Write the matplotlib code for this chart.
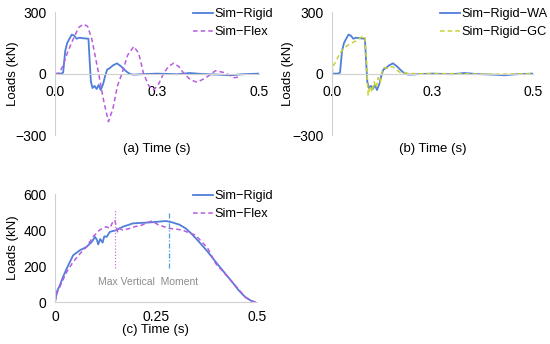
import numpy as np
import matplotlib.pyplot as plt

plt.rcParams['font.family'] = ['Liberation Sans', 'DejaVu Sans']

# ---------------------------------------------------------------------------
# Data
# ---------------------------------------------------------------------------

# (a) / (b) rigid model (same curve in both panels)
t_rigid = [0.0, 0.015, 0.02, 0.025, 0.03, 0.041, 0.047, 0.053, 0.06, 0.07, 0.082, 0.085, 0.088,
           0.092, 0.097, 0.102, 0.107, 0.112, 0.118, 0.123, 0.128, 0.133, 0.142, 0.152, 0.162,
           0.175, 0.185, 0.195, 0.21, 0.25, 0.3, 0.33, 0.36, 0.4, 0.43, 0.46, 0.5]
rigid = [0, 0, 5, 110, 150, 190, 185, 170, 175, 172, 170, 60, -40,
         -70, -60, -75, -55, -80, -50, -10, 20, 25, 40, 50, 35,
         10, -3, -5, -3, 0, -3, 3, -2, -5, -8, -3, 0]

# (a) flexible model
t_flex = [0.0, 0.008, 0.012, 0.02, 0.03, 0.045, 0.058, 0.07, 0.08, 0.09, 0.1, 0.107, 0.12,
          0.131, 0.142, 0.153, 0.164, 0.178, 0.193, 0.205, 0.217, 0.23, 0.242, 0.254, 0.266,
          0.278, 0.291, 0.303, 0.316, 0.332, 0.348, 0.37, 0.393, 0.415, 0.44, 0.455]
flex = [0, 0, 10, 40, 100, 170, 225, 241, 230, 170, 70, 0, -140,
        -234, -170, -60, 0, 90, 132, 100, 0, -60, -80, -50, 0,
        35, 51, 35, 0, -30, -42, -20, 14, 5, -20, -15]

# (b) rigid model, GC variant
t_gc = [0.0, 0.004, 0.01, 0.02, 0.03, 0.045, 0.06, 0.075, 0.082, 0.086, 0.09, 0.095, 0.1,
        0.105, 0.11, 0.115, 0.12, 0.125, 0.13, 0.14, 0.15, 0.16, 0.17, 0.2, 0.3, 0.4, 0.5]
gc = [0, 40, 60, 100, 125, 145, 160, 180, 180, 60, -105, -60, -90,
      -40, -70, -20, -45, 10, 30, 25, 35, 20, 5, 0, 0, -3, 0]

# (c) vertical load
t_c = [0.0, 0.005, 0.012, 0.02, 0.029, 0.045, 0.062, 0.078, 0.091, 0.099, 0.104, 0.107, 0.112,
       0.118, 0.122, 0.128, 0.136, 0.152, 0.168, 0.193, 0.234, 0.275, 0.291, 0.308, 0.324,
       0.34, 0.357, 0.378, 0.398, 0.418, 0.439, 0.455, 0.471, 0.485, 0.495]
c_rigid = [0, 60, 93, 140, 186, 260, 288, 306, 334, 362, 345, 320, 350,
           330, 365, 362, 390, 399, 418, 437, 442, 450, 442, 430, 409,
           375, 334, 280, 223, 168, 111, 65, 28, 8, 0]

t_c_flex = [0.0, 0.005, 0.012, 0.02, 0.029, 0.045, 0.062, 0.078, 0.094, 0.102, 0.11, 0.118,
            0.127, 0.136, 0.142, 0.148, 0.155, 0.16, 0.168, 0.185, 0.2, 0.215, 0.227, 0.24,
            0.255, 0.268, 0.283, 0.3, 0.316, 0.332, 0.348, 0.357, 0.378, 0.398, 0.42, 0.439,
            0.455, 0.471, 0.485, 0.495]
c_flex = [0, 50, 84, 125, 167, 223, 269, 306, 362, 380, 399, 410, 418, 410, 440, 455, 390, 410,
          399, 409, 420, 427, 440, 450, 430, 420, 409, 405, 399, 385, 372, 350, 300, 214,
          160, 111, 70, 28, 8, 0]

t_max_vertical = 0.148
t_max_moment = 0.283

BLUE = "#4F7FD9"
PURPLE = "#B85CE0"
GREEN = "#C8D234"
GRID = "#D0D0D0"

LEG_KW = dict(loc="upper left", frameon=False, fontsize=9.2, handlelength=1.6,
              handletextpad=0.1, labelspacing=0.45, borderpad=0, borderaxespad=0)


def style_axes(ax, xlabel, label_y, ylabel_x, xpad=8):
    for side in ("top", "right"):
        ax.spines[side].set_visible(False)
    ax.spines["left"].set_color(GRID)
    ax.spines["bottom"].set_color(GRID)
    ax.spines["bottom"].set_position(("data", 0))
    ax.tick_params(axis="x", length=0, labelsize=10, pad=xpad)
    ax.tick_params(axis="y", length=0, labelsize=10, pad=6)
    ax.set_xlim(0, 0.5)
    ax.set_xticks([0, 0.25, 0.5])
    ax.set_xlabel(xlabel, fontsize=9.5, va="center")
    ax.xaxis.set_label_coords(0.5, label_y)
    ax.set_ylabel("Loads (kN)", fontsize=9.5, va="center")
    ax.yaxis.set_label_coords(ylabel_x, 0.5)


fig = plt.figure(figsize=(5.5, 3.44), dpi=100)

# ---------------------------------------------------------------------------
# (a)
# ---------------------------------------------------------------------------
ax_a = fig.add_axes([0.1, 0.607, 0.371, 0.358])
ax_a.plot(t_rigid, rigid, color=BLUE, lw=1.3, label="Sim\u2212Rigid")
ax_a.plot(t_flex, flex, color=PURPLE, lw=1.1, ls=(0, (3, 2)), label="Sim\u2212Flex")
ax_a.set_ylim(-300, 300)
ax_a.set_yticks([-300, 0, 300])
style_axes(ax_a, "(a) Time (s)", -0.114, -0.206)
ax_a.set_xticklabels(["0.0", "0.3", "0.5"])
ax_a.legend(bbox_to_anchor=(0.351, 0.976), bbox_transform=fig.transFigure, **LEG_KW)

# ---------------------------------------------------------------------------
# (b)
# ---------------------------------------------------------------------------
ax_b = fig.add_axes([0.6036, 0.607, 0.365, 0.358])
ax_b.plot(t_rigid, rigid, color=BLUE, lw=1.3, label="Sim\u2212Rigid\u2212WA")
ax_b.plot(t_gc, gc, color=GREEN, lw=1.1, ls=(0, (3, 2)), label="Sim\u2212Rigid\u2212GC")
ax_b.set_ylim(-300, 300)
ax_b.set_yticks([-300, 0, 300])
style_axes(ax_b, "(b) Time (s)", -0.114, -0.219)
ax_b.set_xticklabels(["0.0", "0.3", "0.5"])
ax_b.legend(bbox_to_anchor=(0.8, 0.976), bbox_transform=fig.transFigure, **LEG_KW)

# ---------------------------------------------------------------------------
# (c)
# ---------------------------------------------------------------------------
ax_c = fig.add_axes([0.1, 0.122, 0.367, 0.314])
ax_c.plot(t_c, c_rigid, color=BLUE, lw=1.3, label="Sim\u2212Rigid")
ax_c.plot(t_c_flex, c_flex, color=PURPLE, lw=1.1, ls=(0, (3, 2)), label="Sim\u2212Flex")
ax_c.plot([t_max_vertical, t_max_vertical], [190, 510], color="#D070E0", lw=0.9, ls=(0, (1, 1.5)))
ax_c.plot([t_max_moment, t_max_moment], [190, 500], color="#4F9FD9", lw=0.9, ls=(0, (4, 1.5, 1, 1.5)))
ax_c.text(0.23, 111, "Max Vertical  Moment", color="#8C8C8C", fontsize=7.5, ha="center", va="center")
ax_c.set_ylim(0, 600)
ax_c.set_yticks([0, 200, 400, 600])
style_axes(ax_c, "(c) Time (s)", -0.255, -0.208, xpad=6)
ax_c.set_xticklabels(["0", "0.25", "0.5"])
ax_c.legend(bbox_to_anchor=(0.351, 0.447), bbox_transform=fig.transFigure, **LEG_KW)

fig.savefig("out.png", dpi=100)
